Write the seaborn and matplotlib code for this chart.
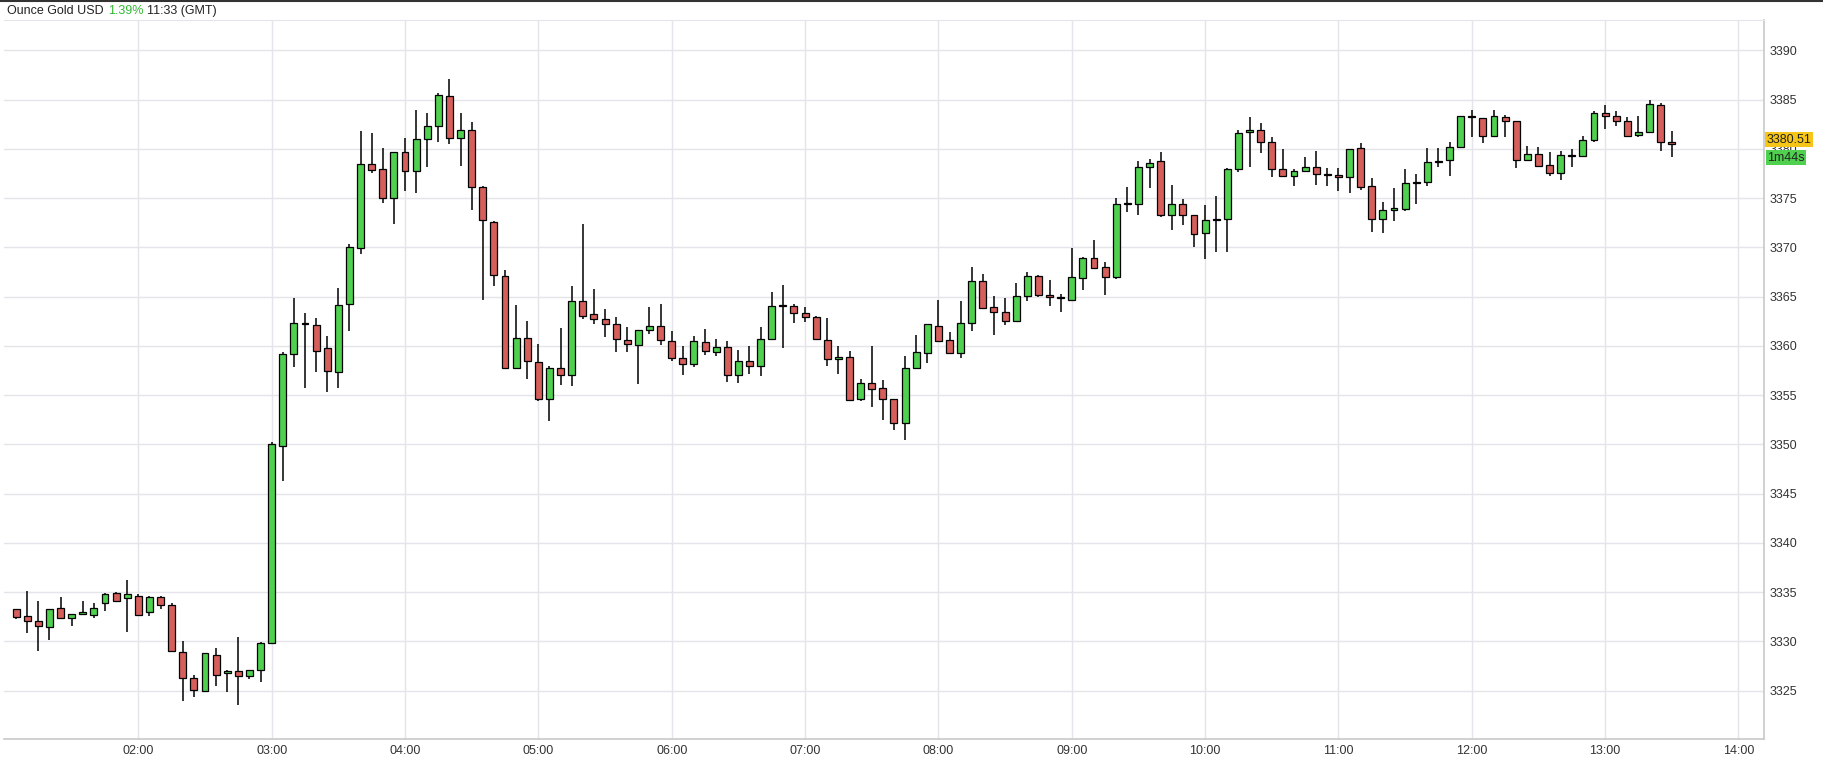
import numpy as np
import pandas as pd
import matplotlib
matplotlib.use("Agg")
import matplotlib.pyplot as plt
import seaborn as sns

# 5-minute candles starting at 01:05 (GMT)
times = pd.date_range("2025-01-01 01:05", periods=150, freq="5min")

opens = [3333.3,3332.6,3332.1,3331.5,3333.4,3332.4,3332.8,3332.7,3333.9,3334.9,
         3334.4,3334.6,3333.0,3334.5,3333.7,3328.9,3326.3,3325.0,3328.6,3326.8,
         3327.0,3326.5,3327.1,3329.8,3349.8,3359.2,3362.3,3362.1,3359.8,3357.3,
         3364.2,3369.9,3378.5,3377.9,3375.0,3379.7,3377.7,3381.0,3382.3,3385.4,
         3381.1,3381.9,3376.1,3372.6,3367.1,3357.7,3360.8,3358.4,3354.6,3357.7,
         3357.0,3364.6,3363.2,3362.7,3362.2,3360.6,3360.1,3361.6,3362.0,3360.5,
         3358.8,3358.2,3360.4,3359.4,3359.9,3357.0,3358.5,3358.0,3360.7,3364.1,
         3364.0,3363.3,3362.9,3360.6,3358.7,3358.9,3354.6,3356.2,3355.7,3354.6,
         3352.2,3357.7,3359.3,3362.0,3360.6,3359.3,3362.3,3366.6,3363.9,3363.4,
         3362.5,3365.1,3367.1,3365.2,3365.0,3364.7,3366.9,3368.9,3368.0,3367.0,
         3374.4,3374.4,3378.1,3378.8,3373.3,3374.4,3373.3,3371.5,3372.8,3372.9,
         3377.9,3381.7,3381.9,3380.7,3377.9,3377.2,3377.7,3378.2,3377.4,3377.3,
         3377.1,3380.1,3376.2,3372.9,3373.8,3373.9,3376.5,3376.6,3378.7,3378.9,
         3380.2,3383.3,3383.1,3381.3,3383.2,3382.8,3378.9,3379.5,3378.4,3377.5,
         3379.4,3379.3,3380.9,3383.6,3383.3,3382.8,3381.4,3381.7,3384.4,3380.7]
highs = [3333.3,3335.1,3334.1,3333.3,3334.5,3332.8,3334.1,3333.9,3334.9,3335.0,
         3336.2,3334.8,3334.6,3334.6,3333.9,3330.0,3326.6,3328.8,3329.3,3327.1,
         3330.4,3327.1,3329.9,3350.2,3359.4,3364.9,3363.3,3362.8,3361.0,3365.9,
         3370.3,3381.8,3381.6,3380.1,3379.7,3381.1,3383.9,3383.6,3385.7,3387.1,
         3383.6,3382.7,3376.2,3372.7,3367.7,3364.1,3362.5,3360.2,3358.0,3361.8,
         3366.1,3372.4,3365.8,3363.7,3362.9,3361.9,3361.6,3363.9,3364.2,3361.5,
         3360.0,3361.0,3361.7,3360.7,3360.5,3359.6,3360.0,3361.9,3365.5,3366.2,
         3364.2,3363.9,3363.0,3362.8,3360.0,3359.5,3356.6,3360.0,3356.5,3354.6,
         3359.0,3361.1,3362.2,3364.7,3361.4,3364.5,3368.0,3367.3,3365.1,3364.9,
         3366.4,3367.5,3367.2,3366.7,3365.3,3369.9,3369.0,3370.7,3368.5,3375.0,
         3376.1,3378.8,3379.0,3379.7,3376.3,3374.9,3373.3,3374.3,3375.2,3378.0,
         3381.9,3383.2,3382.6,3381.2,3380.0,3377.9,3379.2,3379.8,3378.0,3378.0,
         3380.0,3380.6,3377.0,3374.6,3376.0,3377.9,3377.4,3380.1,3380.1,3380.7,
         3383.3,3383.9,3383.1,3383.9,3383.4,3382.8,3380.3,3380.2,3379.7,3379.8,
         3380.0,3381.3,3383.8,3384.4,3383.8,3383.2,3383.3,3385.0,3384.6,3381.8]
lows = [3332.3,3330.9,3329.0,3330.1,3332.4,3331.6,3332.8,3332.4,3333.1,3334.1,
        3331.0,3332.7,3332.6,3333.3,3329.0,3323.9,3324.4,3325.0,3325.5,3324.9,
        3323.5,3326.2,3325.9,3329.8,3346.3,3357.9,3355.7,3357.3,3355.3,3355.7,
        3361.5,3369.3,3377.5,3374.5,3372.4,3375.7,3375.5,3378.2,3380.7,3380.5,
        3378.3,3373.8,3364.7,3366.1,3357.7,3357.7,3356.6,3354.4,3352.4,3356.0,
        3355.9,3362.7,3362.2,3360.9,3359.4,3359.4,3356.1,3361.2,3360.1,3358.5,
        3357.0,3357.9,3359.1,3359.0,3356.3,3356.2,3357.1,3356.9,3360.6,3359.8,
        3362.3,3362.4,3360.6,3358.0,3357.1,3354.4,3354.4,3353.8,3352.5,3351.5,
        3350.4,3357.7,3358.3,3360.5,3359.3,3358.8,3361.5,3363.7,3361.1,3362.1,
        3362.5,3364.6,3365.0,3364.0,3363.4,3364.7,3365.7,3367.9,3365.2,3366.8,
        3373.6,3373.3,3376.0,3373.1,3371.8,3372.3,3370.0,3368.8,3369.5,3369.5,
        3377.6,3378.1,3379.6,3377.1,3377.1,3376.2,3377.7,3376.3,3376.2,3375.7,
        3375.5,3375.8,3371.6,3371.5,3372.7,3373.7,3374.4,3376.2,3378.1,3377.2,
        3380.1,3381.2,3380.6,3381.3,3381.2,3378.0,3378.8,3378.2,3377.2,3376.8,
        3378.2,3379.2,3380.7,3382.0,3382.3,3381.2,3381.2,3381.7,3379.8,3379.2]
closes = [3332.5,3332.1,3331.6,3333.3,3332.4,3332.8,3333.0,3333.4,3334.8,3334.1,
          3334.8,3332.7,3334.5,3333.7,3329.0,3326.3,3325.1,3328.8,3326.6,3327.0,
          3326.5,3327.1,3329.8,3350.0,3359.2,3362.3,3362.2,3359.5,3357.4,3364.1,
          3370.0,3378.5,3377.8,3375.0,3379.7,3377.7,3381.0,3382.3,3385.5,3381.1,
          3381.9,3376.1,3372.8,3367.2,3357.7,3360.8,3358.5,3354.6,3357.7,3357.0,
          3364.6,3363.0,3362.7,3362.2,3360.7,3360.2,3361.6,3362.0,3360.6,3358.8,
          3358.2,3360.5,3359.5,3359.9,3357.0,3358.5,3358.0,3360.7,3364.0,3364.0,
          3363.3,3362.9,3360.7,3358.7,3358.9,3354.5,3356.2,3355.6,3354.6,3352.2,
          3357.7,3359.4,3362.2,3360.5,3359.3,3362.3,3366.6,3363.8,3363.4,3362.5,
          3365.1,3367.1,3365.2,3365.0,3364.9,3367.0,3368.9,3367.9,3367.0,3374.4,
          3374.5,3378.1,3378.6,3373.3,3374.4,3373.3,3371.4,3372.8,3372.9,3377.9,
          3381.6,3381.9,3380.7,3377.9,3377.2,3377.7,3378.2,3377.4,3377.3,3377.1,
          3380.0,3376.1,3372.9,3373.8,3374.0,3376.5,3376.6,3378.7,3378.8,3380.2,
          3383.3,3383.2,3381.3,3383.3,3382.8,3378.9,3379.5,3378.3,3377.5,3379.4,
          3379.3,3380.9,3383.6,3383.3,3382.8,3381.3,3381.7,3384.5,3380.7,3380.5]

ytick_vals = [3325,3330,3335,3340,3345,3350,3355,3360,3365,3370,3375,3380,3385,3390]
xtick_labels = ["02:00","03:00","04:00","05:00","06:00","07:00","08:00",
                "09:00","10:00","11:00","12:00","13:00","14:00"]
title_name = "Ounce Gold USD"
title_pct = "1.39%"
title_time = "11:33 (GMT)"
last_price = "3380.51"
countdown = "1m44s"

sns.set_style("white")
plt.rcParams["font.family"] = ["Liberation Sans", "DejaVu Sans"]

df = pd.DataFrame({"t": times, "o": opens, "h": highs, "l": lows, "c": closes})
df["x"] = df["t"].dt.hour + df["t"].dt.minute / 60.0
df["up"] = df["c"] >= df["o"]

GREEN = "#4fd04f"
RED = "#d65f5c"

fig = plt.figure(figsize=(18.24, 7.58), dpi=100)
ax = fig.add_axes([0.002, 0.0245, 0.965, 0.9495])

ax.vlines(df["x"], df["l"], df["h"], color="black", linewidth=1.1, zorder=2)
bottoms = np.minimum(df["o"], df["c"])
heights = np.maximum(np.abs(df["c"] - df["o"]), 0.08)
ax.bar(df["x"], heights, bottom=bottoms, width=0.052,
       color=np.where(df["up"], GREEN, RED), edgecolor="black",
       linewidth=0.9, zorder=3)

ax.set_xlim(0.99, 14.19)
ax.set_ylim(3320.05, 3393.1)
xt = [int(s[:2]) for s in xtick_labels]
ax.set_xticks(xt)
ax.set_xticklabels(xtick_labels, fontsize=9, color="#333333")
ax.set_yticks(ytick_vals)
ax.set_yticklabels([str(v) for v in ytick_vals], fontsize=9, color="#333333")
ax.yaxis.tick_right()
ax.tick_params(axis="both", length=0, pad=4)
ax.grid(True, color="#e4e4ea", linewidth=1.0)
ax.set_axisbelow(True)
ax.spines["left"].set_visible(False)
for s in ["right", "bottom"]:
    ax.spines[s].set_color("#c8c8c8")
    ax.spines[s].set_linewidth(1.2)
ax.spines["top"].set_color("#e4e4ea")

fig.add_artist(plt.Line2D([0, 1], [0.999, 0.999], color="#333333", linewidth=1.5,
                          transform=fig.transFigure))

t1 = fig.text(0.004, 0.986, title_name, fontsize=9, va="center", ha="left", color="#222222")
fig.canvas.draw()
r = fig.canvas.get_renderer()
bb = t1.get_window_extent(r)
t2 = fig.text((bb.x1 + 4) / fig.bbox.width, 0.986, title_pct, fontsize=9,
              va="center", ha="left", color="#33b833")
bb2 = t2.get_window_extent(r)
fig.text((bb2.x1 + 4) / fig.bbox.width, 0.986, title_time, fontsize=9,
         va="center", ha="left", color="#222222")

ax.text(1.0017, 3380.9, last_price, transform=ax.get_yaxis_transform(),
        fontsize=9, va="center", ha="left", color="#222222",
        bbox=dict(boxstyle="square,pad=0.12", fc="#f5c518", ec="none"))
ax.text(1.0017, 3379.1, countdown, transform=ax.get_yaxis_transform(),
        fontsize=9, va="center", ha="left", color="#222222",
        bbox=dict(boxstyle="square,pad=0.1", fc="#4fd04f", ec="none"))

fig.savefig("out.png", dpi=100, facecolor="white")
